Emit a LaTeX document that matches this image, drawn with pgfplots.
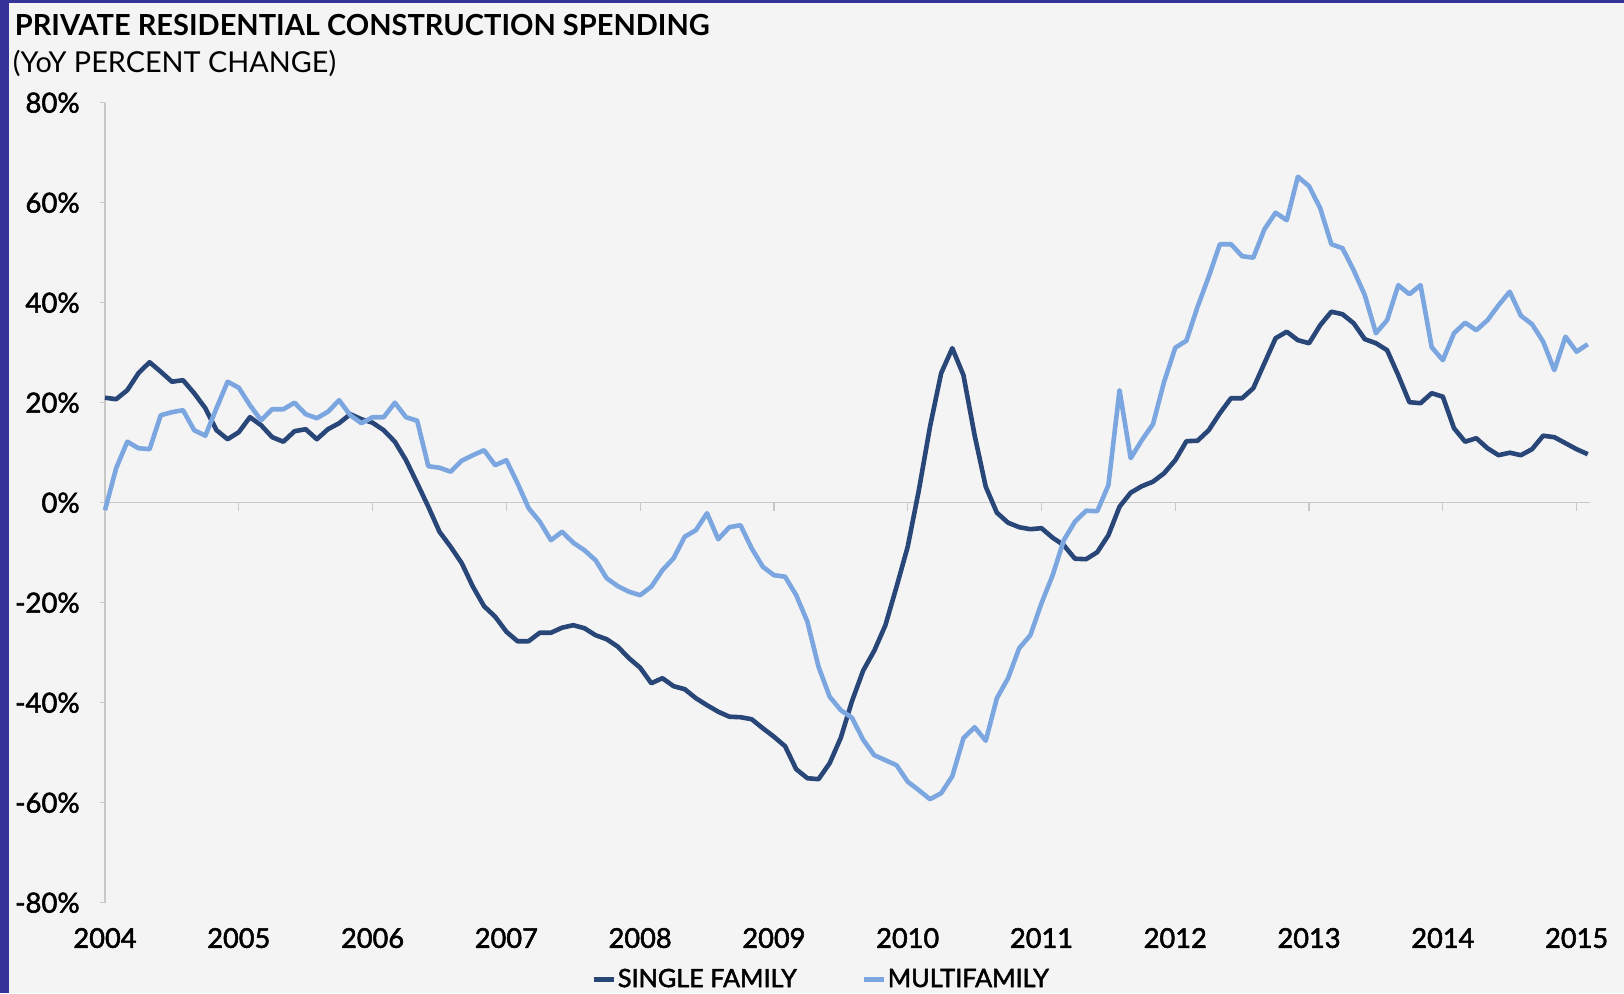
\documentclass[border=0pt]{standalone}
\usepackage{fontspec}
\setmainfont{Lato}
\newfontfamily\titlefont{Lato Bold}
\newfontfamily\subfont{Lato}
\newfontfamily\tickfont[FakeBold=2]{Lato}
\usepackage{pgfplots}
\usepackage{pgfplotstable}
\pgfplotsset{compat=1.18}
\definecolor{bg}{HTML}{F4F4F4}
\definecolor{frame}{HTML}{333399}
\definecolor{sfc}{HTML}{284678}
\definecolor{mfc}{HTML}{7BA6E0}
\definecolor{axgray}{HTML}{C8C8C8}
\pgfplotstableread{
i sf mf
0 21.0 -1.5
1 20.7 6.9
2 22.5 12.2
3 25.9 10.9
4 28.1 10.7
5 26.2 17.5
6 24.2 18.1
7 24.5 18.5
8 21.9 14.5
9 18.9 13.4
10 14.5 18.9
11 12.7 24.2
12 14.1 23.0
13 17.1 19.5
14 15.5 16.5
15 13.1 18.7
16 12.2 18.7
17 14.3 20.0
18 14.7 17.7
19 12.7 16.9
20 14.7 18.2
21 15.9 20.5
22 17.7 17.5
23 16.7 15.9
24 16.0 17.1
25 14.5 17.1
26 12.2 20.0
27 8.5 17.1
28 3.9 16.4
29 -0.8 7.3
30 -5.8 7.0
31 -8.8 6.2
32 -12.1 8.4
33 -16.8 9.5
34 -20.7 10.5
35 -22.8 7.5
36 -25.8 8.5
37 -27.7 3.9
38 -27.7 -1.1
39 -26.0 -3.8
40 -26.0 -7.5
41 -25.0 -5.8
42 -24.5 -8.0
43 -25.1 -9.5
44 -26.5 -11.5
45 -27.3 -15.1
46 -28.8 -16.7
47 -31.1 -17.8
48 -33.0 -18.5
49 -36.1 -16.8
50 -35.1 -13.5
51 -36.7 -11.1
52 -37.3 -6.8
53 -39.1 -5.5
54 -40.5 -2.1
55 -41.8 -7.3
56 -42.8 -4.9
57 -42.9 -4.5
58 -43.3 -9.1
59 -45.1 -12.8
60 -46.8 -14.5
61 -48.7 -14.8
62 -53.3 -18.5
63 -55.1 -23.8
64 -55.3 -32.8
65 -52.1 -38.8
66 -47.0 -41.5
67 -39.7 -43.0
68 -33.6 -47.4
69 -29.6 -50.5
70 -24.5 -51.5
71 -16.8 -52.5
72 -8.8 -55.8
73 2.5 -57.5
74 15.2 -59.3
75 25.9 -58.1
76 30.9 -54.7
77 25.5 -47.1
78 13.5 -44.9
79 3.2 -47.6
80 -2.0 -39.1
81 -4.0 -35.1
82 -4.9 -29.1
83 -5.3 -26.5
84 -5.1 -20.1
85 -7.0 -14.5
86 -8.5 -7.5
87 -11.2 -3.8
88 -11.3 -1.6
89 -9.9 -1.7
90 -6.5 3.5
91 -0.8 22.5
92 2.0 8.9
93 3.3 12.5
94 4.2 15.7
95 5.9 24.2
96 8.5 31.0
97 12.3 32.4
98 12.4 39.2
99 14.5 45.2
100 17.9 51.7
101 20.9 51.7
102 20.9 49.3
103 22.9 49.0
104 27.9 54.7
105 32.9 58.0
106 34.2 56.5
107 32.5 65.2
108 31.9 63.3
109 35.5 58.9
110 38.2 51.7
111 37.7 50.9
112 35.9 46.5
113 32.7 41.5
114 31.9 33.9
115 30.5 36.5
116 25.5 43.5
117 20.1 41.7
118 19.9 43.5
119 21.9 31.1
120 21.2 28.5
121 14.9 33.9
122 12.2 36.0
123 12.9 34.5
124 10.9 36.5
125 9.5 39.5
126 10.0 42.2
127 9.5 37.4
128 10.7 35.7
129 13.4 32.2
130 13.1 26.5
131 11.9 33.2
132 10.7 30.2
133 9.7 31.7
}\datatable
\begin{document}
\begin{tikzpicture}
\useasboundingbox (0,0) rectangle (812pt,496.5pt);
\fill[bg] (0,0) rectangle (812pt,496.5pt);
\fill[frame] (0,0) rectangle (4.5pt,496.5pt);
\fill[frame] (0,494.8pt) rectangle (812pt,496.5pt);
\node[anchor=base west, inner sep=0pt, font=\titlefont\fontsize{14.5}{16}\selectfont] at (7.25pt,478.9pt) {PRIVATE RESIDENTIAL CONSTRUCTION SPENDING};
\node[anchor=base west, inner sep=0pt, font=\subfont\fontsize{14.4}{16}\selectfont] at (6.2pt,460.3pt) {(YoY PERCENT CHANGE)};
\begin{axis}[
  at={(52.5pt,45.15pt)}, anchor=south west,
  scale only axis, width=742.5pt, height=400pt,
  xmin=0, xmax=11.1, ymin=-80, ymax=80,
  axis line style={draw=none},
  clip=false,
  ytick={-80,-60,-40,-20,0,20,40,60,80},
  yticklabels={-80\%,-60\%,-40\%,-20\%,0\%,20\%,40\%,60\%,80\%},
  ytick pos=left, tick align=outside, major tick length=2.5pt,
  ytick style={axgray, line width=0.6pt},
  yticklabel style={anchor=east, inner sep=0pt, xshift=-10pt, font=\tickfont\fontsize{13.8}{15}\selectfont},
  xtick={0,1,2,3,4,5,6,7,8,9,10,11},
  xticklabels={2004,2005,2006,2007,2008,2009,2010,2011,2012,2013,2014,2015},
  xtick pos=bottom, xtick style={draw=none},
  xticklabel style={anchor=north, inner sep=0pt, yshift=-10pt, font=\tickfont\fontsize{13.6}{15}\selectfont},
  legend columns=2,
  legend style={at={(axis description cs:0.3276,-0.111)}, anchor=south west,
    draw=none, fill=none, inner sep=0pt, font=\tickfont\fontsize{12.6}{15}\selectfont,
    nodes={inner sep=0.5pt},
    /tikz/every even column/.append style={column sep=32pt}},
  legend image code/.code={\draw[#1, line width=2.5pt] (0pt,0pt) -- (10pt,0pt);},
]
\draw[axgray, line width=0.6pt] (axis cs:0,-80) -- (axis cs:0,80);
\draw[axgray, line width=0.6pt] (axis cs:0,0) -- (axis cs:11.1,0);
\pgfplotsinvokeforeach{1,2,3,4,5,6,7,8,9,10,11}{
  \draw[axgray, line width=0.6pt] (axis cs:#1,0) -- ++(0pt,-4pt);
}
\addplot[sfc, line width=2.3pt, line join=round] table[x expr=\thisrow{i}/12, y=sf] {\datatable};
\addlegendentry{SINGLE FAMILY}
\addplot[mfc, line width=2.3pt, line join=round] table[x expr=\thisrow{i}/12, y=mf] {\datatable};
\addlegendentry{MULTIFAMILY}
\end{axis}
\end{tikzpicture}
\end{document}
